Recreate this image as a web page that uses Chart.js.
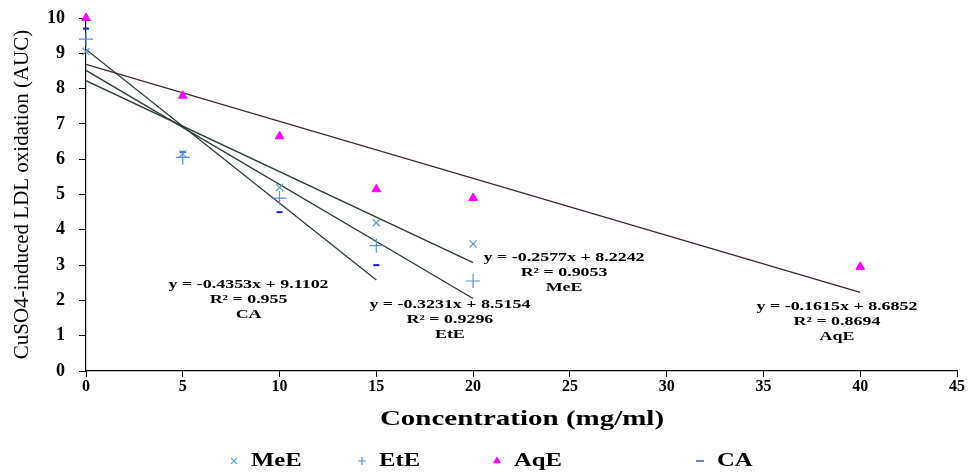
<!DOCTYPE html>
<html>
<head>
<meta charset="utf-8">
<script src="https://cdn.jsdelivr.net/npm/chart.js@4.4.1/dist/chart.umd.min.js"></script>
<style>
  html, body { margin: 0; padding: 0; background: #fff; }
  #wrap { width: 969px; height: 472px; }
</style>
</head>
<body>
<div id="wrap"><canvas id="chart" width="969" height="472"></canvas></div>
<script>
// concentrations (mg/ml)
const concMeE = [0, 5, 10, 15, 20];
const concEtE = [0, 5, 10, 15, 20];
const concAqE = [0, 5, 10, 15, 20, 40];
const concCA = [0, 5, 10, 15];

// LDL oxidation (AUC)
const aucMeE = [9.05, 6.15, 5.2, 4.2, 3.6];
const aucEtE = [9.4, 6.05, 4.9, 3.55, 2.55];
const aucAqE = [10.0, 7.8, 6.65, 5.15, 4.9, 2.95];
const aucCA = [9.7, 6.2, 4.5, 3.0];

// linear trendlines as printed on the chart
const seriesNames = ["MeE", "EtE", "AqE", "CA"];
const slopes = [-0.2577, -0.3231, -0.1615, -0.4353];
const intercepts = [8.2242, 8.5154, 8.6852, 9.1102];
const rSquared = ["0.9053", "0.9296", "0.8694", "0.955"];
const trendEnd = [20, 20, 40, 15];
// where each equation label sits (data coords)
const labelX = [24.7, 18.8, 38.8, 8.4];
const labelY = [3.2, 1.87, 1.81, 2.44];

const toPoints = (xs, ys) => xs.map((x, i) => ({ x: x, y: ys[i] }));

function trendData(i) {
  return [
    { x: 0, y: intercepts[i] },
    { x: trendEnd[i], y: intercepts[i] + slopes[i] * trendEnd[i] }
  ];
}

const FONT = "'Liberation Serif', 'Times New Roman', serif";
const STRETCH = 1.38; // the original text is drawn wide

const trendColors = ["#2b3b36", "#2b3b36", "#3a2638", "#2b3b36"];

const trendDatasets = seriesNames.map((name, i) => ({
  label: "trend " + name,
  type: "line",
  data: trendData(i),
  borderColor: trendColors[i],
  borderWidth: 1.3,
  pointRadius: 0,
  fill: false
}));

function wideText(ctx, text, x, y, k) {
  ctx.save();
  ctx.translate(x, y);
  ctx.scale(k || STRETCH, 1);
  ctx.fillText(text, 0, 0);
  ctx.restore();
}

// equation labels, x axis title and legend
const extras = {
  id: "extras",
  afterDatasetsDraw(chart) {
    const ctx = chart.ctx;
    const xs = chart.scales.x, ys = chart.scales.y;
    ctx.save();
    ctx.fillStyle = "#000";
    ctx.textBaseline = "middle";
    ctx.textAlign = "center";
    ctx.font = "bold 13px " + FONT;
    seriesNames.forEach((name, i) => {
      const px = xs.getPixelForValue(labelX[i]);
      const py = ys.getPixelForValue(labelY[i]);
      const sign = intercepts[i] >= 0 ? " + " : " - ";
      wideText(ctx, "y = " + slopes[i].toFixed(4) + "x" + sign + Math.abs(intercepts[i]).toFixed(4), px, py);
      wideText(ctx, "R² = " + rSquared[i], px, py + 15);
      wideText(ctx, name, px, py + 30);
    });

    ctx.font = "bold 21px " + FONT;
    wideText(ctx, "Concentration (mg/ml)", 522, 420);

    // legend
    const legendX = [234, 362, 497, 700];
    const legendY = 461;
    ctx.textAlign = "left";
    ctx.font = "bold 19px " + FONT;
    seriesNames.forEach((name, i) => {
      const ds = chart.data.datasets[i];
      ctx.strokeStyle = ds.borderColor;
      ctx.fillStyle = ds.backgroundColor;
      Chart.helpers.drawPoint(ctx, {
        pointStyle: ds.pointStyle,
        radius: ds.pointStyle === "triangle" ? 3.5 : 4,
        borderWidth: ds.pointBorderWidth
      }, legendX[i], legendY);
      ctx.fillStyle = "#000";
      wideText(ctx, name, legendX[i] + 17, legendY, 1.3);
    });
    ctx.restore();
  }
};

new Chart(document.getElementById("chart"), {
  type: "scatter",
  data: {
    datasets: [
      {
        label: "MeE",
        data: toPoints(concMeE, aucMeE),
        pointStyle: "crossRot",
        borderColor: "#5b9bd5",
        backgroundColor: "#5b9bd5",
        pointRadius: 5,
        pointBorderWidth: 1.2,
        clip: false
      },
      {
        label: "EtE",
        data: toPoints(concEtE, aucEtE),
        pointStyle: "cross",
        borderColor: "#5b8fd0",
        backgroundColor: "#5b8fd0",
        pointRadius: 7,
        pointBorderWidth: 1.2,
        clip: false
      },
      {
        label: "AqE",
        data: toPoints(concAqE, aucAqE),
        pointStyle: "triangle",
        borderColor: "#ff00ff",
        backgroundColor: "#ff00ff",
        pointRadius: 5,
        pointBorderWidth: 1,
        clip: false
      },
      {
        label: "CA",
        data: toPoints(concCA, aucCA),
        pointStyle: "line",
        borderColor: "#1020e0",
        backgroundColor: "#1020e0",
        pointRadius: 3,
        pointBorderWidth: 2,
        clip: false
      },
      ...trendDatasets
    ]
  },
  options: {
    responsive: false,
    animation: false,
    layout: { padding: { top: 18, right: 12, left: 10, bottom: 0 } },
    plugins: {
      tooltip: { enabled: false },
      legend: { display: false }
    },
    scales: {
      x: {
        type: "linear",
        min: 0,
        max: 45,
        afterFit: s => { s.height = 101; s.paddingLeft = 0; s.paddingRight = 0; },
        ticks: { stepSize: 5, color: "#000", font: { family: FONT, size: 16, weight: "bold" }, padding: 0 },
        grid: { display: true, drawOnChartArea: false, drawTicks: true, tickLength: 6, color: "#000" },
        border: { color: "#000", width: 1.2 }
      },
      y: {
        min: 0,
        max: 10,
        afterFit: s => { s.width = 76; s.paddingTop = 0; s.paddingBottom = 0; },
        ticks: { stepSize: 1, color: "#000", font: { family: FONT, size: 18, weight: "bold" }, padding: 14 },
        grid: { display: true, drawOnChartArea: false, drawTicks: true, tickLength: 7, color: "#000" },
        border: { color: "#000", width: 1.2 },
        title: {
          display: true,
          text: "CuSO4-induced LDL oxidation (AUC)",
          color: "#000",
          font: { family: FONT, size: 21 },
          padding: { top: 0, bottom: 0 }
        }
      }
    }
  },
  plugins: [extras]
});
</script>
</body>
</html>
